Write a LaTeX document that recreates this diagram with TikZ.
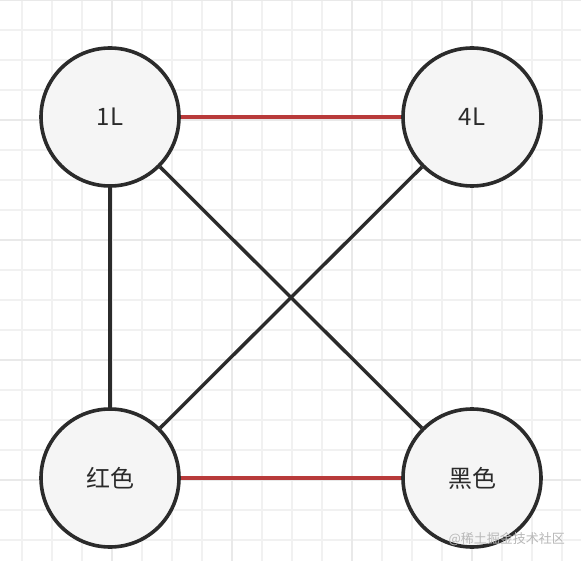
\documentclass[tikz,border=0pt]{standalone}
\usepackage{fontspec}
\newfontfamily\cjk{Noto Sans CJK SC}
\definecolor{gridminor}{HTML}{F1F1F1}
\definecolor{gridmajor}{HTML}{E9E9E9}
\definecolor{edgered}{HTML}{B83A3A}
\definecolor{ink}{HTML}{2B2B2B}
\definecolor{nodefill}{HTML}{F5F5F5}
\definecolor{wmgray}{HTML}{B8B8B8}
\tikzset{
  vertex/.style={circle, draw=ink, line width=3.6pt, fill=nodefill, minimum size=138pt, inner sep=0pt, font=\cjk\fontsize{24}{28}\selectfont, text=ink},
  redge/.style={draw=edgered, line width=3.4pt},
  kedge/.style={draw=ink, line width=3.4pt},
  gridline/.style={line width=1.3pt},
}
\begin{document}
\begin{tikzpicture}[x=1pt,y=-1pt]
\useasboundingbox (0,0) rectangle (581,561);
\fill[white] (0,0) rectangle (581,561);
% grid
\foreach \x in {22,52,...,562} \draw[gridminor, gridline] (\x,0) -- (\x,561);
\foreach \y in {0,30,...,560} \draw[gridminor, gridline] (0,\y) -- (581,\y);
\foreach \x in {112,232,352,472} \draw[gridmajor, gridline] (\x,0) -- (\x,561);
\foreach \y in {0,120,240,360,480} \draw[gridmajor, gridline] (0,\y) -- (581,\y);
% nodes
\node[vertex] (a) at (110,117) {1L};
\node[vertex] (b) at (472,117) {4L};
\node[vertex] (c) at (110,478) {红色};
\node[vertex] (d) at (472,478) {黑色};
% edges
\draw[redge] (a) -- (b);
\draw[redge] (c) -- (d);
\draw[kedge] (a) -- (c);
\draw[kedge] (a) -- (d);
\draw[kedge] (b) -- (c);
% watermark
\node[font=\cjk\fontsize{13}{15}\selectfont, text=wmgray, anchor=east, inner sep=0pt] (wm) at (565,539) {@稀土掘金技术社区};
\end{tikzpicture}
\end{document}
